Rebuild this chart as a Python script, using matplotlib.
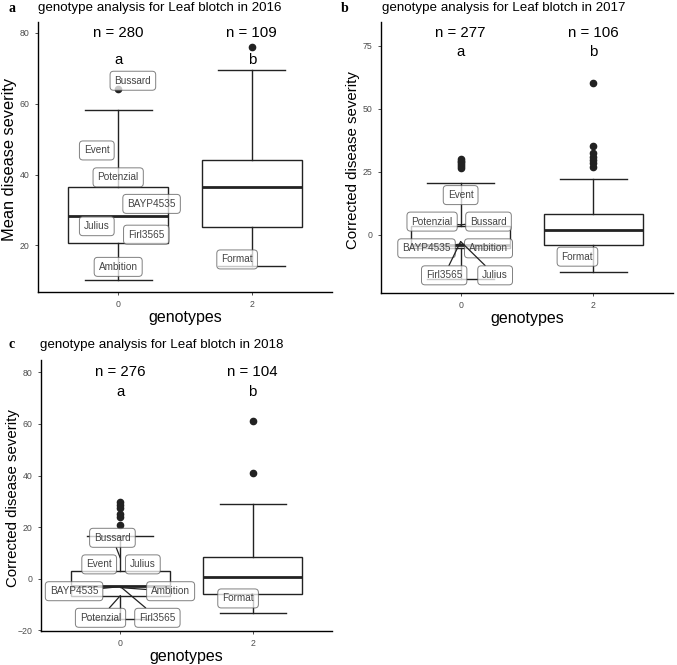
import matplotlib.pyplot as plt

plt.rcParams['font.family'] = ['Liberation Sans', 'DejaVu Sans']

genotypes = ['0', '2']
years = ['2016', '2017', '2018']
panel_letters = ['a', 'b', 'c']
y_titles = ['Mean disease severity', 'Corrected disease severity', 'Corrected disease severity']
group_letters = ['a', 'b']

# whislo, q1, median, q3, whishi for genotype 0 and 2
stats_2016 = [[10.3, 20.6, 28.2, 36.6, 58.2], [14.1, 25.2, 36.4, 44.0, 69.5]]
fliers_2016 = [[64.2], [75.9]]
n_2016 = [280, 109]

stats_2017 = [[-17.6, -5.0, -3.8, 3.7, 20.5], [-14.8, -4.0, 2.0, 8.2, 22.3]]
fliers_2017 = [[26.5, 27.3, 28.0, 28.8, 29.5, 30.2], [27.1, 28.4, 29.7, 31.0, 32.4, 35.3, 60.1]]
n_2017 = [277, 106]

stats_2018 = [[-15.5, -6.6, -2.8, 2.9, 16.7], [-13.3, -5.7, 0.7, 8.4, 29.0]]
fliers_2018 = [[21.0, 23.8, 25.0, 27.6, 28.8, 29.6], [41.1, 61.0]]
n_2018 = [276, 104]

# variety labels: name, label x, label y, point y (None = no segment)
labels_2016 = [('Bussard', 1.11, 66.5, None), ('Event', 0.84, 46.8, None),
               ('Potenzial', 1.0, 39.2, None), ('BAYP4535', 1.25, 31.7, None),
               ('Julius', 0.84, 25.4, None), ('Firl3565', 1.21, 23.0, None),
               ('Ambition', 1.0, 13.9, None)]
labels_2017 = [('Event', 1.0, 15.8, None), ('Potenzial', 0.785, 5.3, 4.0),
               ('Bussard', 1.21, 5.3, 4.0), ('BAYP4535', 0.743, -5.3, -3.6),
               ('Ambition', 1.21, -5.3, -3.6), ('Firl3565', 0.876, -16.0, -2.6),
               ('Julius', 1.26, -16.0, -2.6)]
labels_2018 = [('Bussard', 0.94, 15.9, 8.0), ('Event', 0.84, 5.6, None),
               ('Julius', 1.17, 5.6, None), ('BAYP4535', 0.65, -4.8, -3.0),
               ('Ambition', 1.38, -4.8, -3.4), ('Potenzial', 0.85, -15.1, -6.5),
               ('Firl3565', 1.28, -15.1, -3.0)]
format_2016 = (1.89, 16.0)
format_2017 = (1.88, -8.6)
format_2018 = (1.89, -7.6)

W, H = 677, 665
fig = plt.figure(figsize=(W / 100, H / 100), dpi=100)

# axes boxes in pixels: left, top, right, bottom
boxes = [(38, 22, 332, 292), (381, 22, 673, 293), (41, 360, 332, 630.7)]
ylims = [(6.8, 83.1), (-23, 84.4), (-20.1, 84.8)]
yticks = [[20, 40, 60, 80], [0, 25, 50, 75], [-20, 0, 20, 40, 60, 80]]
title_pos = [(38, 8, 12), (381.7, 8, 345), (40, 345, 12)]
ylab_size = [11.8, 10.8, 10.8]

all_stats = [stats_2016, stats_2017, stats_2018]
all_fliers = [fliers_2016, fliers_2017, fliers_2018]
all_n = [n_2016, n_2017, n_2018]
all_labels = [labels_2016, labels_2017, labels_2018]
all_format = [format_2016, format_2017, format_2018]

line_col = '#222222'
lab_size = 7.2
lab_col = '#444444'
lab_bbox = dict(boxstyle='round,pad=0.45,rounding_size=0.35', fc='white', ec='#555555', lw=0.7, alpha=0.75)

for i in range(3):
    l, t, r, b = boxes[i]
    ax = fig.add_axes([l / W, 1 - b / H, (r - l) / W, (b - t) / H])
    bxpstats = []
    for s, f in zip(all_stats[i], all_fliers[i]):
        bxpstats.append(dict(whislo=s[0], q1=s[1], med=s[2], q3=s[3], whishi=s[4], fliers=f))
    ax.bxp(bxpstats, positions=[1, 2], widths=0.75, capwidths=0.5, patch_artist=True,
           boxprops=dict(facecolor='white', edgecolor=line_col, lw=1.0),
           medianprops=dict(color=line_col, lw=2.0),
           whiskerprops=dict(color=line_col, lw=1.0),
           capprops=dict(color=line_col, lw=1.0),
           flierprops=dict(marker='o', markerfacecolor=line_col, markeredgecolor=line_col,
                           markersize=4.5, linestyle='none'))

    for name, lx, ly, py in all_labels[i]:
        if py is None:
            ax.text(lx, ly, name, ha='center', va='center', fontsize=lab_size, color=lab_col,
                    bbox=lab_bbox, zorder=5)
        else:
            ax.annotate(name, xy=(1, py), xytext=(lx, ly), ha='center', va='center',
                        fontsize=lab_size, color=lab_col, bbox=lab_bbox, zorder=5,
                        arrowprops=dict(arrowstyle='-', color=line_col, lw=0.9,
                                        shrinkA=0, shrinkB=0))
    fx, fy = all_format[i]
    ax.text(fx, fy, 'Format', ha='center', va='center', fontsize=lab_size, color=lab_col,
            bbox=lab_bbox, zorder=5)

    for k in range(2):
        ax.text(k + 1, 80, 'n = %d' % all_n[i][k], ha='center', va='center', fontsize=10.8)
        ax.text(k + 1, 72.5, group_letters[k], ha='center', va='center', fontsize=10.8)

    ax.set_xlim(0.4, 2.6)
    ax.set_ylim(*ylims[i])
    ax.set_xticks([1, 2])
    ax.set_xticklabels(genotypes)
    ax.set_yticks(yticks[i])
    ax.tick_params(labelsize=6.3, labelcolor='#4d4d4d', color='#333333', length=2.5, width=0.6)
    for sp in ['top', 'right']:
        ax.spines[sp].set_visible(False)
    for sp in ['left', 'bottom']:
        ax.spines[sp].set_linewidth(1.0)
        ax.spines[sp].set_color('black')

    ax.text(0.5, -0.095, 'genotypes', transform=ax.transAxes, ha='center', va='center', fontsize=11.5)
    ax.text(-0.097, 0.49, y_titles[i], transform=ax.transAxes, ha='center', va='center',
            rotation=90, fontsize=ylab_size[i])

    tx, ty, lx = title_pos[i]
    fig.text(tx / W, 1 - ty / H, 'genotype analysis for Leaf blotch in ' + years[i],
             ha='left', va='center', fontsize=9.6)
    fig.text(lx / W, 1 - ty / H, panel_letters[i], ha='center', va='center',
             fontsize=10, fontweight='bold', family='Liberation Serif')

fig.savefig('out.png', dpi=100)
